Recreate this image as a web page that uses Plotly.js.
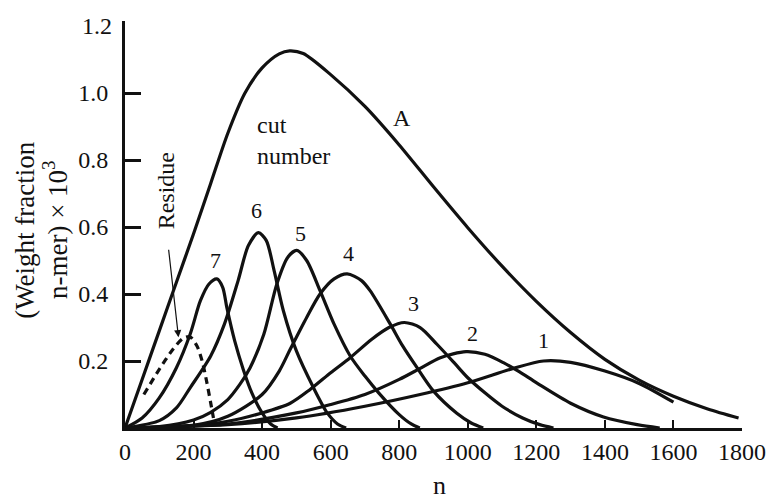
<!DOCTYPE html>
<html>
<head>
<meta charset="utf-8">
<script src="https://cdn.plot.ly/plotly-3.0.1.min.js"></script>
<style>html,body{margin:0;padding:0;background:#fff;}#chart{width:767px;height:502px;}</style>
</head>
<body>
<div id="chart"></div>
<script>
// Whole polymer (curve A)
const nA = [0, 50, 100, 150, 200, 250, 300, 350, 400, 450, 480, 520, 600, 700, 800, 900, 1000, 1100, 1200, 1300, 1400, 1500, 1600, 1700, 1790];
const wA = [0, 0.145, 0.29, 0.435, 0.58, 0.73, 0.88, 1.0, 1.075, 1.117, 1.126, 1.118, 1.055, 0.96, 0.845, 0.72, 0.598, 0.483, 0.378, 0.285, 0.205, 0.143, 0.095, 0.057, 0.03];
// Residue (dashed)
const nRes = [55, 100, 140, 170, 190, 210, 225, 238, 250, 258];
const wRes = [0.1, 0.175, 0.235, 0.268, 0.272, 0.245, 0.2, 0.14, 0.075, 0.03];
// Cuts 7 .. 1
const n7 = [0, 50, 100, 150, 190, 220, 245, 268, 285, 297, 320, 345, 370, 400, 425, 445];
const w7 = [0, 0.03, 0.09, 0.18, 0.28, 0.38, 0.43, 0.445, 0.42, 0.36, 0.26, 0.175, 0.105, 0.045, 0.012, 0];
const n6 = [0, 100, 150, 190, 250, 290, 330, 360, 389, 412, 435, 462, 500, 550, 590, 620, 645];
const w6 = [0, 0.022, 0.06, 0.12, 0.215, 0.31, 0.44, 0.545, 0.583, 0.56, 0.47, 0.35, 0.23, 0.12, 0.045, 0.012, 0];
const n5 = [0, 100, 200, 250, 300, 335, 365, 405, 443, 475, 501, 530, 569, 610, 657, 700, 740, 800, 835, 860];
const w5 = [0, 0.004, 0.024, 0.047, 0.085, 0.13, 0.18, 0.28, 0.43, 0.51, 0.53, 0.5, 0.41, 0.31, 0.215, 0.155, 0.105, 0.04, 0.012, 0];
const n4 = [0, 200, 300, 400, 450, 482, 530, 569, 610, 648, 690, 715, 774, 810, 852, 900, 968, 1010, 1045];
const w4 = [0, 0.008, 0.035, 0.1, 0.17, 0.235, 0.33, 0.4, 0.445, 0.46, 0.44, 0.41, 0.31, 0.245, 0.18, 0.11, 0.044, 0.015, 0];
const n3 = [0, 200, 300, 400, 482, 540, 600, 657, 720, 770, 815, 861, 910, 960, 1000, 1050, 1100, 1160, 1210, 1250];
const w3 = [0, 0.008, 0.02, 0.045, 0.074, 0.115, 0.165, 0.21, 0.265, 0.3, 0.315, 0.3, 0.25, 0.195, 0.15, 0.105, 0.065, 0.03, 0.01, 0];
const n2 = [0, 300, 500, 600, 700, 800, 861, 920, 995, 1050, 1104, 1150, 1202, 1300, 1396, 1494, 1560];
const w2 = [0, 0.012, 0.045, 0.07, 0.1, 0.145, 0.178, 0.21, 0.228, 0.22, 0.195, 0.168, 0.134, 0.074, 0.033, 0.01, 0];
const n1 = [0, 300, 500, 700, 861, 1000, 1133, 1221, 1300, 1400, 1500, 1600];
const w1 = [0, 0.01, 0.03, 0.065, 0.1, 0.135, 0.178, 0.2, 0.196, 0.17, 0.133, 0.077];

const xTicks = [0, 200, 400, 600, 800, 1000, 1200, 1400, 1600, 1800];
const yTicks = [0.2, 0.4, 0.6, 0.8, 1.0];
const yTickText = ['0.2', '0.4', '0.6', '0.8', '1.0'];

const ink = '#111';
function curve(x, y, dash) {
  return {x: x, y: y, type: 'scatter', mode: 'lines', hoverinfo: 'skip',
    line: {color: ink, width: 3.2, shape: 'spline', smoothing: 0.8, dash: dash || 'solid'}};
}
const data = [
  curve(nA, wA), curve(n7, w7), curve(n6, w6), curve(n5, w5), curve(n4, w4),
  curve(n3, w3), curve(n2, w2), curve(n1, w1), curve(nRes, wRes, '7px,5px')
];

const serif = 'Liberation Serif, Times New Roman, serif';
function lab(x, y, t, size) {
  return {x: x, y: y, xref: 'x', yref: 'y', text: t, showarrow: false, xanchor: 'center', yanchor: 'middle',
    font: {family: serif, size: size || 22, color: ink}};
}
const annotations = [
  lab(263, 0.50, '7'), lab(385, 0.648, '6'), lab(511, 0.582, '5'), lab(651, 0.52, '4'),
  lab(841, 0.371, '3'), lab(1013, 0.282, '2'), lab(1221, 0.262, '1'), lab(808, 0.924, 'A', 24),
  {x: 380, y: 0.857, xref: 'x', yref: 'y', text: 'cut<br>number', showarrow: false, xanchor: 'left',
   yanchor: 'middle', align: 'left', font: {family: serif, size: 24, color: ink}},
  {x: 120, y: 0.707, xref: 'x', yref: 'y', text: 'Residue', textangle: -90, showarrow: false,
   xanchor: 'center', yanchor: 'middle', font: {family: serif, size: 24, color: ink}},
  {x: 156, y: 0.271, xref: 'x', yref: 'y', text: '', showarrow: true, ax: -10, ay: -89,
   arrowhead: 2, arrowsize: 1.2, arrowwidth: 1.2, arrowcolor: ink},
  {x: 0, y: 1.2, xref: 'x', yref: 'y', text: '1.2', showarrow: false, xanchor: 'right', yanchor: 'middle',
   xshift: -11, font: {family: serif, size: 24, color: ink}},
  {x: -0.162, y: 0.487, xref: 'paper', yref: 'paper', text: '(Weight fraction', textangle: -90,
   xanchor: 'center', yanchor: 'middle', showarrow: false, font: {family: serif, size: 27, color: ink}},
  {x: -0.113, y: 0.487, xref: 'paper', yref: 'paper', text: 'n-mer) × 10<sup>3</sup>', textangle: -90,
   xanchor: 'center', yanchor: 'middle', showarrow: false, font: {family: serif, size: 27, color: ink}},
  {x: 0.5105, y: -0.142, xref: 'paper', yref: 'paper', text: 'n', showarrow: false,
   xanchor: 'center', yanchor: 'middle', font: {family: serif, size: 26, color: ink}}
];

const layout = {
  width: 767, height: 502,
  margin: {l: 125, r: 25, t: 21, b: 74},
  paper_bgcolor: '#fff', plot_bgcolor: '#fff',
  showlegend: false,
  font: {family: serif, color: ink},
  xaxis: {range: [0, 1800], tickvals: xTicks, ticks: 'inside', ticklen: 8, tickwidth: 2, tickcolor: ink,
    showline: true, linewidth: 3, linecolor: ink, showgrid: false, zeroline: false,
    tickfont: {family: serif, size: 24, color: ink}, ticklabelstandoff: 0},
  yaxis: {range: [0, 1.215], tickvals: yTicks, ticktext: yTickText, ticks: 'inside', ticklen: 16,
    tickwidth: 3, tickcolor: ink, showline: true, linewidth: 3, linecolor: ink, showgrid: false,
    zeroline: false, tickfont: {family: serif, size: 24, color: ink}, ticklabelstandoff: 9},
  annotations: annotations
};
Plotly.newPlot('chart', data, layout, {staticPlot: true, displayModeBar: false});
</script>
</body>
</html>
